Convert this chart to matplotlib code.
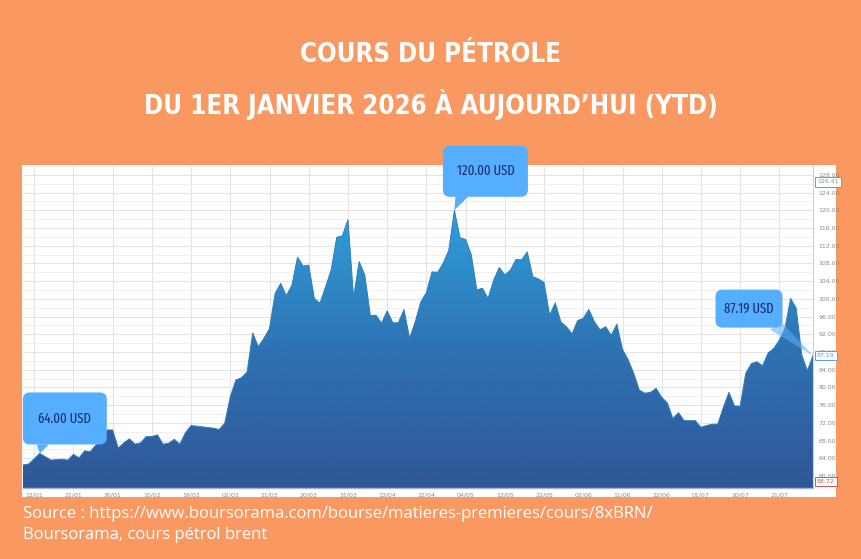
import numpy as np
import matplotlib
matplotlib.use("Agg")
import matplotlib.pyplot as plt
from matplotlib.colors import LinearSegmentedColormap
from matplotlib.patches import Rectangle, FancyBboxPatch, Polygon
from matplotlib import font_manager as fm
import matplotlib.transforms as mtransforms

# ---------------- data ----------------
# trading-day index (0 = 12/01) and Brent price (USD)
day = [-2, -1, 1, 3, 5, 6, 7, 8, 9, 10, 11, 12, 13, 14, 15, 16, 17, 18, 19, 20,
       21, 22, 23, 24, 25, 26, 27, 28, 30, 32, 33, 34, 35, 36, 37, 38, 39, 40, 41, 42,
       43, 44, 45, 46, 47, 48, 49, 50, 51, 52, 53, 54, 55, 56, 57, 58, 59, 60, 61, 62,
       63, 64, 65, 66, 67, 68, 69, 70, 71, 72, 73, 74, 75, 76, 77, 78, 79, 80, 81, 82,
       83, 84, 85, 86, 87, 88, 89, 90, 91, 92, 93, 94, 95, 96, 97, 98, 99, 100, 101, 102,
       103, 104, 105, 106, 107, 108, 109, 110, 111, 112, 113, 114, 115, 116, 117, 118, 119, 120, 121, 122,
       123, 124, 125, 126, 127, 128, 129, 130, 131, 132, 133, 134, 135, 136, 137, 138, 139]
price = [62.5, 62.7, 65.1, 63.6, 63.8, 63.6, 64.9, 64.1, 65.7, 65.5, 67.0, 68.1, 70.4, 70.4, 66.3, 67.5, 68.4, 67.2, 67.5, 68.9,
         68.9, 69.3, 67.2, 67.4, 68.3, 67.2, 69.8, 71.4, 71.1, 70.8, 70.5, 71.9, 77.9, 81.7, 82.2, 83.5, 92.3, 89.2, 91.1, 93.3,
         101.2, 103.5, 100.7, 103.1, 109.4, 107.4, 107.6, 100.1, 99.0, 102.7, 106.5, 113.9, 114.2, 117.9, 100.3, 108.4, 105.4, 96.2, 96.3, 94.5,
         97.3, 94.6, 94.6, 97.6, 91.1, 94.8, 99.3, 101.4, 106.1, 106.0, 108.0, 111.0, 120.0, 113.8, 113.4, 110.0, 102.0, 102.4, 100.1, 104.2,
         107.1, 105.4, 106.5, 108.9, 108.8, 110.6, 105.0, 104.5, 103.7, 96.3, 99.1, 94.8, 93.7, 92.1, 95.1, 95.6, 97.6, 94.8, 93.0, 93.7,
         91.8, 94.3, 88.6, 86.3, 83.2, 79.4, 78.7, 78.9, 79.8, 77.8, 76.5, 73.0, 74.3, 72.5, 72.5, 72.5, 71.0, 71.4, 71.7, 71.7,
         75.5, 78.9, 75.8, 75.8, 83.2, 85.4, 85.8, 84.9, 87.8, 88.8, 90.7, 93.3, 100.1, 97.9, 87.3, 83.8, 87.19]

tick_days = [0, 7, 14, 21, 28, 35, 42, 49, 56, 63, 70, 77, 84, 91, 98, 105, 112, 119, 126, 133]
tick_labels = ["12/01", "21/01", "30/01", "10/02", "19/02", "02/03", "11/03", "20/03", "31/03", "13/04",
               "22/04", "04/05", "13/05", "22/05", "02/06", "11/06", "22/06", "01/07", "10/07", "21/07"]
y_ticks = [60, 64, 68, 72, 76, 80, 84, 88, 92, 96, 100, 104, 108, 112, 116, 120, 124, 128]

period_high = 126.41
period_low = 58.72
last_price = 87.19

callout_days = [1, 75, 139]
callout_texts = ["64.00 USD", "120.00 USD", "87.19 USD"]

title1 = "COURS DU PÉTROLE"
title2 = "DU 1ER JANVIER 2026 À AUJOURD’HUI (YTD)"
source1 = "Source : https://www.boursorama.com/bourse/matieres-premieres/cours/8xBRN/"
source2 = "Boursorama, cours pétrol brent"


# ---------------- fonts ----------------
STRETCH = {"ultra-condensed": 100, "extra-condensed": 200, "condensed": 300,
           "semi-condensed": 400, "normal": 500}


def pick_condensed(bold, target_stretch=300):
    best = None
    for f in fm.fontManager.ttflist:
        n = f.name.lower()
        st = f.stretch
        if isinstance(st, str):
            st = STRETCH.get(st, 500)
        if "narrow" in n or "condensed" in n:
            st = min(st, 300 if "extra" not in n else 200)
        if st >= 500:
            continue
        w = f.weight if isinstance(f.weight, int) else (700 if "bold" in str(f.weight) else 400)
        score = abs(st - target_stretch) * 3 + abs(w - (700 if bold else 400))
        if "italic" in str(f.style) or "oblique" in str(f.style):
            score += 10000
        if best is None or score < best[0]:
            best = (score, f.fname)
    if best is None:
        return fm.FontProperties(family="DejaVu Sans", weight="bold" if bold else "normal")
    return fm.FontProperties(fname=best[1])


title_fp = pick_condensed(True, 300)
call_fp = pick_condensed(False, 200)

# ---------------- style ----------------
BG = "#F99860"
W, H = 862, 559
fig = plt.figure(figsize=(W / 100, H / 100), dpi=100, facecolor=BG)

# white panel
panel = Rectangle((22 / W, 1 - 497 / H), (836 - 22) / W, (497 - 165) / H,
                  transform=fig.transFigure, facecolor="white", edgecolor="none", zorder=-5)
fig.add_artist(panel)

ax = fig.add_axes([23 / W, 1 - 488 / H, (813 - 23) / W, (488 - 166) / H], zorder=2)
ax.set_facecolor("white")
YMIN, YMAX = 57.3, 130.0
ax.set_xlim(day[0], day[-1])
ax.set_ylim(YMIN, YMAX)

ax.set_yticks(y_ticks)
ax.set_yticks([v + 2 for v in y_ticks], minor=True)
ax.set_yticklabels([f"{v:.2f}" for v in y_ticks])
ax.yaxis.tick_right()
ax.set_xticks(tick_days)
ax.set_xticklabels(tick_labels)
ax.tick_params(axis="both", which="both", length=0, labelsize=4.5, labelcolor="#8a8a8a")
ax.tick_params(axis="y", pad=4)
ax.tick_params(axis="x", pad=3)
ax.grid(True, which="major", color="#e4e4e4", linewidth=0.8)
ax.grid(True, which="minor", axis="y", color="#f1f1f1", linewidth=0.7)
ax.set_axisbelow(True)
for s in ["top", "left"]:
    ax.spines[s].set_visible(False)
ax.spines["right"].set_color("#d0d0d0")
ax.spines["bottom"].set_color("#9fb3d9")
ax.spines["bottom"].set_linewidth(1.0)

# gradient area
poly = ax.fill_between(day, price, YMIN, facecolor="none", edgecolor="none", zorder=2)
cmap = LinearSegmentedColormap.from_list("g", ["#2f5797", "#2f73b4", "#2ea3dc"])
grad = np.linspace(0, 1, 256).reshape(-1, 1)
im = ax.imshow(grad, extent=[day[0], day[-1], YMIN, 122.0], origin="lower", aspect="auto",
               cmap=cmap, zorder=2, interpolation="bicubic")
im.set_clip_path(poly.get_paths()[0], transform=ax.transData)
ax.plot(day, price, color="#2b7fbd", linewidth=0.7, zorder=3)
ax.set_xlim(day[0], day[-1])
ax.set_ylim(YMIN, YMAX)

# right-side value boxes
trans = mtransforms.blended_transform_factory(ax.transAxes, ax.transData)
for val, col in [(period_high, "#5cb85c"), (last_price, "#5b9cf0"), (period_low, "#d9534f")]:
    ax.text(1.005, val, f"{val:.2f}", transform=trans, fontsize=4.5, color=col, ha="left", va="center",
            bbox=dict(boxstyle="square,pad=0.35", fc="white", ec=col, lw=0.7), zorder=6, clip_on=False)

# callouts (geometry in pixels relative to the data point; screen y up)
BOX = "#55AEFF"
TXT = "#1b2d6b"
# (box centre dx, dy, box width, height, pointer base pts, pointer alpha)
geoms = [
    (25, 35, 84, 52, [(-3, 9), (9, 9)], 1.0),
    (31, 39, 85, 51, [(1, 14), (14, 14)], 1.0),
    (-64, 47, 67, 38, [(-43, 26), (-31, 33)], 0.55),
]
cfp = call_fp.copy()
cfp.set_size(10)
for d, t, (dx, dy, bw, bh, base, al) in zip(callout_days, callout_texts, geoms):
    v = price[day.index(d)]
    px, py = ax.transData.transform((d, v))
    cx, cy = px + dx, py + dy
    tri = Polygon([(px, py)] + [(px + bx, py + by) for bx, by in base], closed=True,
                  transform=None, fc=BOX, ec="none", alpha=al, zorder=8)
    fig.add_artist(tri)
    box = FancyBboxPatch((cx - bw / 2, cy - bh / 2), bw, bh,
                         boxstyle="round,pad=0,rounding_size=7", transform=None,
                         fc=BOX, ec="none", zorder=9)
    fig.add_artist(box)
    fig.text(cx / W, cy / H, t, ha="center", va="center", color=TXT, fontproperties=cfp, zorder=10)

# titles
tfp = title_fp.copy()
tfp.set_size(18.5)
fig.text(0.5, 1 - 55 / H, title1, ha="center", va="center", color="white", fontproperties=tfp)
fig.text(0.5, 1 - 104 / H, title2, ha="center", va="center", color="white", fontproperties=tfp)

# source
fig.text(23 / W, 1 - 518 / H, source1, ha="left", va="baseline", color="white", fontsize=12,
         family=["Open Sans", "DejaVu Sans"])
fig.text(23 / W, 1 - 539 / H, source2, ha="left", va="baseline", color="white", fontsize=12,
         family=["Open Sans", "DejaVu Sans"])

fig.savefig("out.png", dpi=100, facecolor=BG)
